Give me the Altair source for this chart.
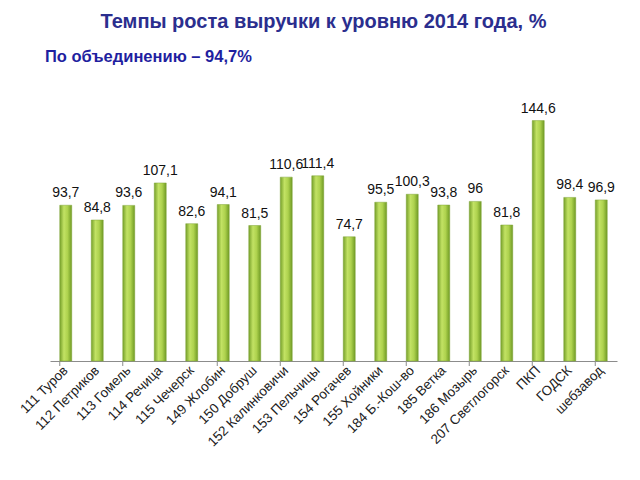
import altair as alt
import pandas as pd

categories = ["111  Туров", "112  Петриков", "113  Гомель", "114  Речица", "115  Чечерск",
              "149  Жлобин", "150  Добруш", "152  Калинковичи", "153  Пельчицы", "154  Рогачев",
              "155  Хойники", "184  Б.-Кош-во", "185  Ветка", "186  Мозырь", "207  Светлогорск",
              "ПКП", "ГОДСК", "шебзавод"]
values = [93.7, 84.8, 93.6, 107.1, 82.6, 94.1, 81.5, 110.6, 111.4, 74.7,
          95.5, 100.3, 93.8, 96.0, 81.8, 144.6, 98.4, 96.9]
labels = ["93,7", "84,8", "93,6", "107,1", "82,6", "94,1", "81,5", "110,6", "111,4", "74,7",
          "95,5", "100,3", "93,8", "96", "81,8", "144,6", "98,4", "96,9"]
tick_categories = [categories[i] for i in (0, 2, 5, 7, 9, 11, 13, 15, 17)]

title_text = "Темпы роста выручки к уровню 2014 года, %"
subtitle_text = "По объединению – 94,7%"

df = pd.DataFrame({"cat": categories, "val": values, "lab": labels})
ticks_df = pd.DataFrame({"cat": tick_categories})
sub_df = pd.DataFrame({"t": [subtitle_text]})

W, H = 567, 266
head = "Liberation Sans, Arial, sans-serif"
body = "Liberation Sans, Arial, sans-serif"

xscale = alt.Scale(domain=categories, paddingInner=0.62, paddingOuter=0.31)
yscale = alt.Scale(domain=[0, 160])

gradient = alt.Gradient(
    gradient="linear", x1=0, x2=1, y1=0, y2=0,
    stops=[alt.GradientStop(color="#76a02a", offset=0),
           alt.GradientStop(color="#c2e264", offset=0.35),
           alt.GradientStop(color="#aed24e", offset=0.65),
           alt.GradientStop(color="#6f9a24", offset=1)],
)

bars = alt.Chart(df).mark_bar(color=gradient, stroke="#7fa436", strokeWidth=0.5).encode(
    x=alt.X("cat:N", scale=xscale, sort=categories,
            axis=alt.Axis(title=None, labelAngle=-45, labelAlign="right", labelBaseline="middle",
                          labelFont=body, labelFontSize=13.5,
                          labelColor="#222222", labelPadding=7, ticks=False,
                          domainColor="#8c8c8c", domainWidth=1, labelOverlap=False,
                          labelLimit=200)),
    y=alt.Y("val:Q", scale=yscale, axis=None),
)

text = alt.Chart(df).mark_text(baseline="bottom", dy=-5, fontSize=14,
                               font=body, color="#111111").encode(
    x=alt.X("cat:N", scale=xscale, sort=categories),
    y=alt.Y("val:Q", scale=yscale),
    text="lab:N",
)

ticks = alt.Chart(ticks_df).mark_rule(color="#8c8c8c", strokeWidth=1).encode(
    x=alt.X("cat:N", scale=xscale, sort=categories, bandPosition=0),
    y=alt.value(H),
    y2=alt.value(H + 5),
)

subtitle = alt.Chart(sub_df).mark_text(align="left", baseline="middle", font=head,
                                       fontWeight="bold", fontSize=16.5, color="#1f1fa0").encode(
    x=alt.value(-5),
    y=alt.value(-38),
    text="t:N",
)

chart = alt.layer(bars, text, ticks, subtitle).properties(
    width=W, height=H,
    title=alt.TitleParams(title_text, anchor="middle", font=head, fontSize=20,
                          fontWeight="bold", color="#2b2e8e", offset=17, dx=-10),
    autosize=alt.AutoSizeParams(type="none"),
    padding={"left": 42, "top": 87, "right": 10, "bottom": 100},
).configure_view(stroke=None)

chart.save("out.html", embed_options={"renderer": "svg", "actions": False})
